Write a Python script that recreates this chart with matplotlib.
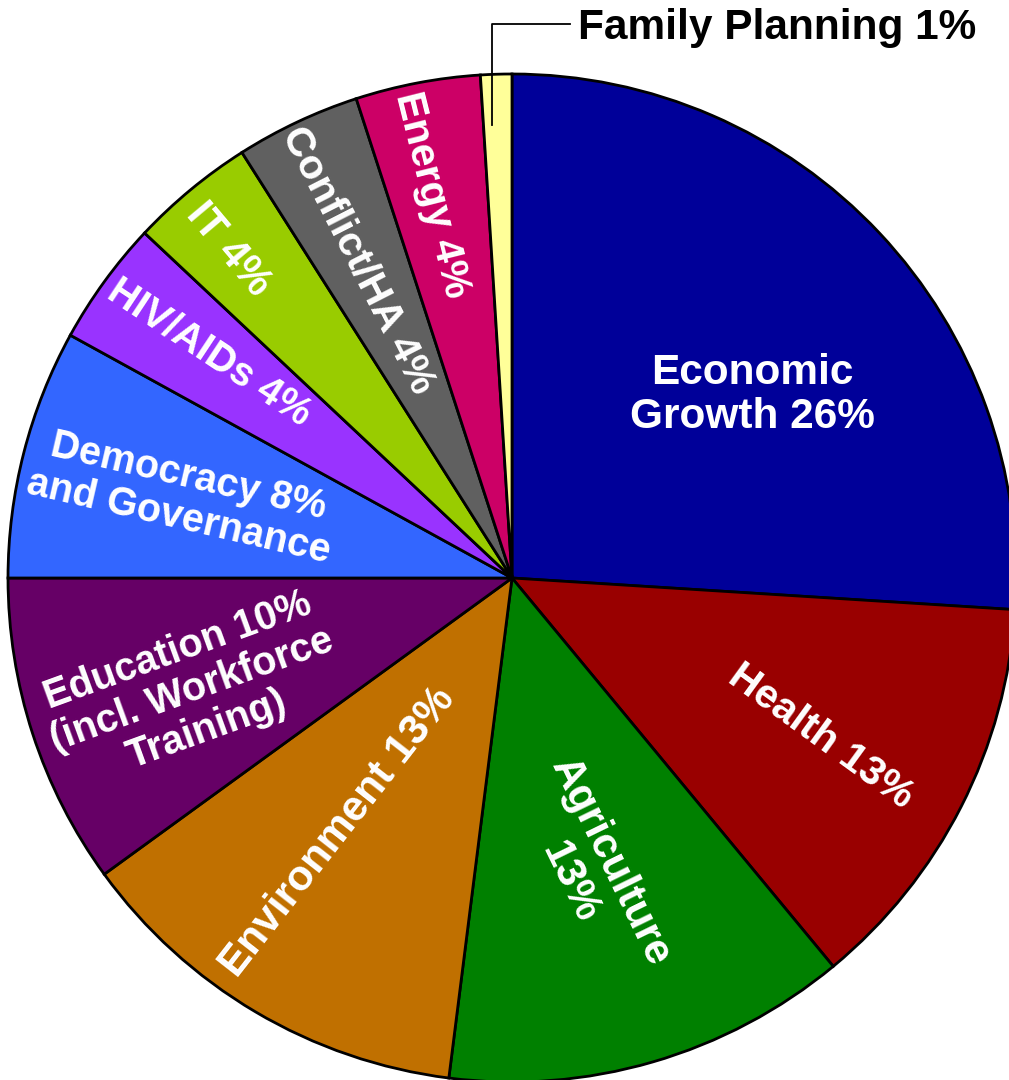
import matplotlib
matplotlib.use("Agg")
import matplotlib.pyplot as plt

# shares, clockwise from 12 o'clock
sectors = ["Economic Growth", "Health", "Agriculture", "Environment", "Education",
           "Democracy and Governance", "HIV/AIDs", "IT", "Conflict/HA", "Energy",
           "Family Planning"]
shares = [26, 13, 13, 13, 10, 8, 4, 4, 4, 4, 1]
colors = ["#000099", "#990000", "#008000", "#C07000", "#660066", "#3366FF",
          "#9933FF", "#99CC00", "#606060", "#CC0066", "#FFFF99"]

# label text, position in picture pixels, rotation, size
labels = ["Economic\nGrowth 26%", "Health 13%", "Agriculture\n13%", "Environment 13%",
          "Education 10%\n(incl. Workforce\nTraining)", "Democracy 8%\nand Governance",
          "HIV/AIDs 4%", "IT 4%", "Conflict/HA 4%", "Energy 4%"]
label_xy = [(752, 395), (821, 736), (590, 872), (338, 832), (192, 690), (184, 497),
            (210, 352), (228, 250), (358, 260), (432, 195)]
label_rot = [0, -36, -64, 52, 20, -13, -33.5, -50, -63, -76]
label_size = [30.5, 29.5, 30.5, 30.5, 28.5, 28.5, 28.5, 30, 29.8, 29.7]

W, H = 1009, 1080
fig = plt.figure(figsize=(W / 100, H / 100), dpi=100)
ax = fig.add_axes([0, 0, 1, 1])

ax.pie(shares, colors=colors, startangle=90, counterclock=False,
       center=(512, H - 578), radius=504,
       wedgeprops=dict(edgecolor="black", linewidth=2.0))

font = dict(family=["Liberation Sans", "DejaVu Sans"], weight="bold")
for txt, (x, y), rot, fs in zip(labels, label_xy, label_rot, label_size):
    ax.text(x, H - y, txt, color="white", fontsize=fs, rotation=rot,
            ha="center", va="center", multialignment="center",
            rotation_mode="anchor", linespacing=1.15, **font)

# leader for the thin slice
ax.plot([492, 492, 570], [H - 125, H - 24, H - 24], color="black", lw=1.3)
ax.text(578, H - 28, "Family Planning 1%", color="black", fontsize=30.5,
        ha="left", va="center", **font)

ax.set_xlim(0, W)
ax.set_ylim(0, H)
ax.set_aspect("equal")
ax.axis("off")
fig.savefig("out.png", dpi=100, facecolor="white")
